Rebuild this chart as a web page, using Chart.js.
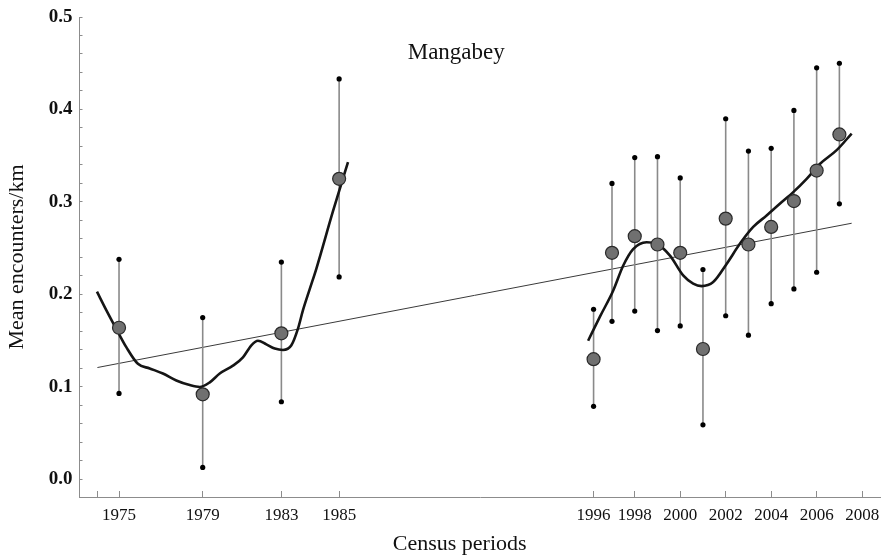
<!DOCTYPE html>
<html>
<head>
<meta charset="utf-8">
<script src="https://cdn.jsdelivr.net/npm/chart.js@4/dist/chart.umd.min.js"></script>
<style>
  html, body { margin: 0; padding: 0; background: #fff; }
  #wrap { width: 881px; height: 560px; position: relative; }
</style>
</head>
<body>
<div id="wrap"><canvas id="chart"></canvas></div>
<script>
// census dates (decimal years) and mean encounter rates with their intervals
const censusYears = [1975.32, 1979, 1982.46, 1985, 1996.19, 1997, 1998, 1999, 2000, 2001, 2002, 2003, 2004, 2005, 2006, 2007]
const meanRate = [0.164, 0.092, 0.158, 0.325, 0.130, 0.245, 0.263, 0.254, 0.245, 0.141, 0.282, 0.254, 0.273, 0.301, 0.334, 0.373]
const upperCI = [0.238, 0.175, 0.235, 0.433, 0.184, 0.320, 0.348, 0.349, 0.326, 0.227, 0.390, 0.355, 0.358, 0.399, 0.445, 0.450]
const lowerCI = [0.093, 0.013, 0.084, 0.219, 0.079, 0.171, 0.182, 0.161, 0.166, 0.059, 0.177, 0.156, 0.190, 0.206, 0.224, 0.298]

// smoothed trend, first and second survey blocks
const smoothEarlyX = [1974.35, 1974.76, 1975.28, 1975.64, 1976.15, 1976.67, 1977.25, 1977.84, 1978.43, 1978.87, 1979.31, 1979.75, 1980.33, 1980.77, 1981.14, 1981.43, 1981.80, 1982.17, 1982.53, 1982.90, 1983.19, 1983.41, 1983.71, 1984.0, 1984.73, 1985.39]
const smoothEarlyY = [0.203, 0.183, 0.159, 0.143, 0.125, 0.120, 0.1145, 0.107, 0.102, 0.100, 0.105, 0.1145, 0.123, 0.132, 0.145, 0.150, 0.146, 0.1415, 0.140, 0.145, 0.163, 0.183, 0.206, 0.228, 0.290, 0.343]
const smoothLateX = [1995.95, 1996.47, 1997.05, 1997.49, 1997.93, 1998.52, 1998.96, 1999.55, 2000.13, 2000.57, 2000.94, 2001.45, 2002.04, 2002.63, 2003.21, 2003.80, 2004.38, 2004.97, 2005.56, 2006.14, 2006.88, 2007.54]
const smoothLateY = [0.150, 0.176, 0.204, 0.231, 0.249, 0.2565, 0.2548, 0.242, 0.2206, 0.2117, 0.209, 0.2134, 0.233, 0.255, 0.273, 0.2854, 0.298, 0.3106, 0.325, 0.341, 0.356, 0.374]

// linear regression line
const trendX = [1974.37, 2007.54]
const trendY = [0.121, 0.277]

// axis ticks
const xTickValues = [1974.37, 1975.32, 1979, 1982.46, 1985, 1996.19, 1998, 2000, 2002, 2004, 2006, 2008]
const xTickLabels = ['', '1975', '1979', '1983', '1985', '1996', '1998', '2000', '2002', '2004', '2006', '2008']
const yTickValues = [0, 0.02, 0.04, 0.06, 0.08, 0.1, 0.12, 0.14, 0.16, 0.18, 0.2, 0.22, 0.24, 0.26, 0.28, 0.3, 0.32, 0.34, 0.36, 0.38, 0.4, 0.42, 0.44, 0.46, 0.48, 0.5]

const serif = '"Liberation Serif", "Times New Roman", serif'
const toPoints = (xs, ys) => xs.map((x, i) => ({x: x, y: ys[i]}))

// error bars: lower/upper pairs broken by gaps
const errorSegments = []
censusYears.forEach((x, i) => {
    errorSegments.push({x: x, y: lowerCI[i]}, {x: x, y: upperCI[i]}, {x: x, y: null})
})
const errorEnds = [...toPoints(censusYears, lowerCI), ...toPoints(censusYears, upperCI)]

const textLabels = {
    id: 'textLabels',
    afterDraw(chart) {
        const {ctx, scales: {x, y}} = chart
        ctx.save()
        ctx.fillStyle = '#111'
        ctx.textAlign = 'center'
        ctx.textBaseline = 'alphabetic'
        ctx.font = '23px ' + serif
        ctx.fillText('Mangabey', x.getPixelForValue(1990.15), y.getPixelForValue(0.455))
        ctx.font = '22px ' + serif
        ctx.fillText('Census periods', x.getPixelForValue(1990.3), chart.height - 10)
        ctx.restore()
    }
}

const ctx = document.getElementById('chart').getContext('2d')
new Chart(ctx, {
    type: 'scatter',
    data: {
        datasets: [
            {
                data: toPoints(censusYears, meanRate),
                pointRadius: 6.5,
                pointBackgroundColor: '#707070',
                pointBorderColor: '#2a2a2a',
                pointBorderWidth: 1.2,
                order: 0
            },
            {
                data: toPoints(smoothEarlyX, smoothEarlyY),
                showLine: true,
                cubicInterpolationMode: 'monotone',
                borderColor: '#151515',
                borderWidth: 2.6,
                pointRadius: 0,
                order: 1
            },
            {
                data: toPoints(smoothLateX, smoothLateY),
                showLine: true,
                cubicInterpolationMode: 'monotone',
                borderColor: '#151515',
                borderWidth: 2.6,
                pointRadius: 0,
                order: 1
            },
            {
                data: errorEnds,
                pointRadius: 2.6,
                pointBackgroundColor: '#000',
                pointBorderWidth: 0,
                order: 2
            },
            {
                data: errorSegments,
                showLine: true,
                spanGaps: false,
                borderColor: '#8a8a8a',
                borderWidth: 1.6,
                pointRadius: 0,
                order: 3
            },
            {
                data: toPoints(trendX, trendY),
                showLine: true,
                borderColor: '#3a3a3a',
                borderWidth: 1,
                pointRadius: 0,
                order: 4
            }
        ]
    },
    options: {
        responsive: true,
        maintainAspectRatio: false,
        animation: false,
        layout: {autoPadding: false, padding: {top: 17, right: 0, bottom: 0, left: 0}},
        plugins: {
            legend: {display: false},
            tooltip: {enabled: false}
        },
        scales: {
            x: {
                type: 'linear',
                min: 1973.56,
                max: 2008.83,
                afterBuildTicks: (scale) => { scale.ticks = xTickValues.map(v => ({value: v})) },
                afterFit: (scale) => {
                    scale.height = 63
                    scale.paddingLeft = 0
                    scale.paddingRight = 0
                },
                border: {color: '#8c8c8c', width: 1},
                grid: {drawOnChartArea: false, drawTicks: true, tickLength: -6, color: '#8c8c8c'},
                ticks: {
                    autoSkip: false,
                    maxRotation: 0,
                    minRotation: 0,
                    padding: 14,
                    color: '#111',
                    font: {family: serif, size: 17},
                    callback: (value, index) => xTickLabels[index]
                }
            },
            y: {
                type: 'linear',
                min: -0.019,
                max: 0.5,
                afterBuildTicks: (scale) => { scale.ticks = yTickValues.map(v => ({value: v})) },
                afterFit: (scale) => {
                    scale.width = 79
                    scale.paddingTop = 0
                    scale.paddingBottom = 0
                },
                border: {color: '#8c8c8c', width: 1},
                grid: {drawOnChartArea: false, drawTicks: true, tickLength: -3.5, color: '#8c8c8c'},
                title: {
                    display: true,
                    text: 'Mean encounters/km',
                    color: '#111',
                    font: {family: serif, size: 22},
                    padding: {top: 4, bottom: 0}
                },
                ticks: {
                    autoSkip: false,
                    padding: 10,
                    color: '#111',
                    font: {family: serif, size: 19, weight: 'bold'},
                    callback: (value) => Math.abs(value * 10 - Math.round(value * 10)) < 1e-6 ? value.toFixed(1) : ''
                }
            }
        }
    },
    plugins: [textLabels]
})
</script>
</body>
</html>
